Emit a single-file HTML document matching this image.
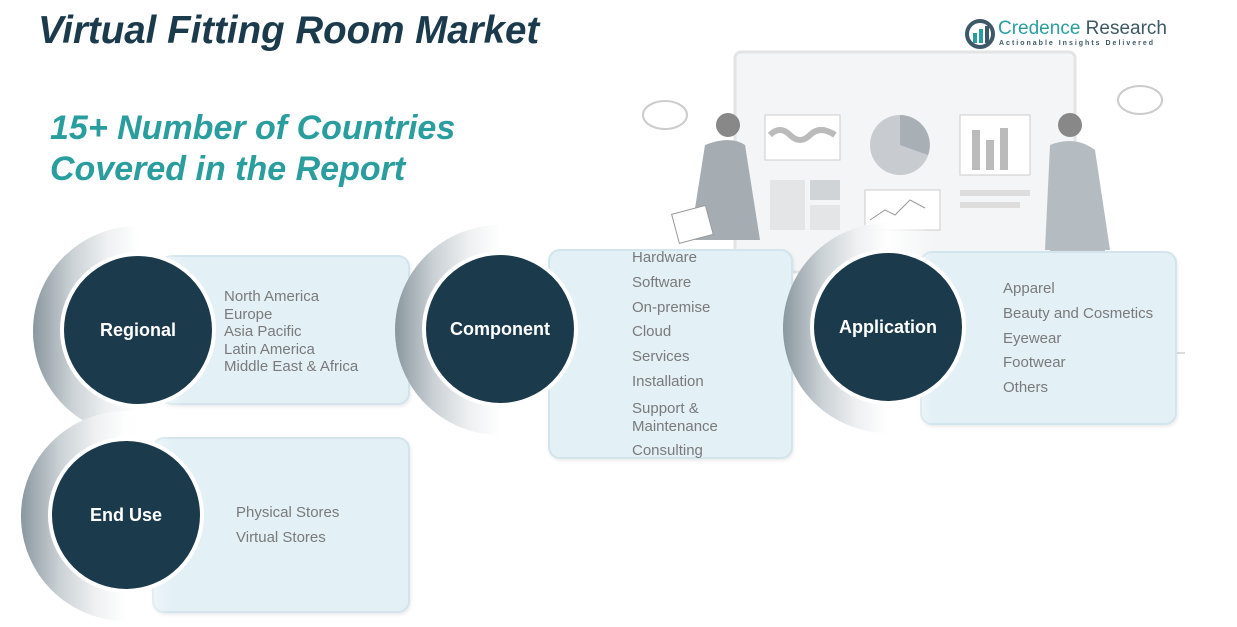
<!DOCTYPE html>
<html><head><style>
body{margin:0;width:1237px;height:627px;background:#fff;position:relative;overflow:hidden;font-family:"Liberation Sans",sans-serif}
.a{position:absolute}
.box{position:absolute;background:#e3f0f6;border:2px solid #d2e4ec;border-radius:12px;box-sizing:border-box;box-shadow:1px 2px 3px rgba(0,0,0,0.08)}
.ring{position:absolute;border-radius:50%;background:linear-gradient(90deg,#8a979f 0%,#c9d0d4 18%,#eef0f1 35%,rgba(255,255,255,0.9) 50%,rgba(255,255,255,0) 72%)}
.c{position:absolute;border-radius:50%;background:#1b3a4b;border:4px solid #fff;box-sizing:border-box;color:#fff;font-weight:bold;font-size:18px;display:flex;align-items:center;justify-content:center}
.t{position:absolute;color:#7a7a7a;font-size:15px;line-height:17.5px}
.t2{position:absolute;color:#7a7a7a;font-size:15px;line-height:24.8px}
</style></head><body>
<div class="a" style="left:38px;top:9px;font-size:38.5px;font-weight:bold;font-style:italic;color:#1b3a4b">Virtual Fitting Room Market</div>
<div class="a" style="left:50px;top:108px;font-size:34px;font-weight:bold;font-style:italic;color:#2a9d9f;line-height:41px">15+ Number of Countries<br>Covered in the Report</div>
<svg class="a" style="left:964px;top:18px" width="32" height="32"><circle cx="16" cy="16" r="13" fill="none" stroke="#3d5866" stroke-width="4"/><rect x="9" y="15" width="4" height="10" fill="#2a9d9f"/><rect x="15" y="11" width="4" height="14" fill="#2a9d9f"/><rect x="21" y="8" width="4" height="17" fill="#3d5866"/></svg>
<div class="a" style="left:998px;top:18px;font-size:19px;color:#2a9d9f">Credence <span style="color:#3d5866">Research</span></div>
<div class="a" style="left:999px;top:40px;font-size:7px;letter-spacing:2px;color:#3d5866;font-weight:bold">Actionable Insights Delivered</div>
<svg class="a" style="left:630px;top:50px" width="560" height="310">
<rect x="105" y="2" width="340" height="220" rx="6" fill="#f4f5f6" stroke="#e2e4e6" stroke-width="3"/>
<rect x="135" y="65" width="75" height="45" fill="#fff" stroke="#ccc"/><path d="M140 85 q10-10 20 0 t20 0 t25 0" stroke="#bbb" stroke-width="6" fill="none"/>
<circle cx="270" cy="95" r="30" fill="#c8ccd0"/><path d="M270 95 L270 65 A30 30 0 0 1 298 105 Z" fill="#a8afb5"/>
<rect x="330" y="65" width="70" height="60" fill="#fff" stroke="#ccc"/><rect x="342" y="80" width="8" height="40" fill="#bbb"/><rect x="356" y="90" width="8" height="30" fill="#bbb"/><rect x="370" y="78" width="8" height="42" fill="#bbb"/>
<rect x="140" y="130" width="35" height="50" fill="#e3e5e7"/><rect x="180" y="130" width="30" height="20" fill="#d0d4d7"/><rect x="180" y="155" width="30" height="25" fill="#e3e5e7"/>
<rect x="235" y="140" width="75" height="40" fill="#fff" stroke="#ccc"/><path d="M240 170 l15-10 l10 5 l15-15 l15 8" stroke="#999" fill="none"/>
<rect x="330" y="140" width="70" height="6" fill="#ddd"/><rect x="330" y="152" width="60" height="6" fill="#ddd"/>
<ellipse cx="35" cy="65" rx="22" ry="14" fill="none" stroke="#ccc" stroke-width="2"/><ellipse cx="510" cy="50" rx="22" ry="14" fill="none" stroke="#ccc" stroke-width="2"/>
<circle cx="98" cy="75" r="12" fill="#888"/><path d="M75 95 q25-10 40 0 l15 95 h-70z" fill="#a5adb3"/><rect x="45" y="160" width="35" height="30" fill="#fff" stroke="#999" transform="rotate(-15 60 175)"/>
<circle cx="440" cy="75" r="12" fill="#888"/><path d="M420 95 q25-10 45 5 l15 100 h-65z" fill="#b5bcc1"/><path d="M420 200 h55 v50 h-55z" fill="#b8bec3"/>
<line x1="160" y1="303" x2="555" y2="303" stroke="#bbb"/>
</svg>
<div class="box" style="left:160px;top:255px;width:250px;height:150px"></div>
<div class="ring" style="left:33px;top:226px;width:210px;height:210px"></div>
<div class="c" style="left:60px;top:252px;width:156px;height:156px">Regional</div>
<div class="t" style="left:224px;top:288px">North America<br>Europe<br>Asia Pacific<br>Latin America<br>Middle East &amp; Africa</div>
<div class="box" style="left:548px;top:249px;width:245px;height:210px"></div>
<div class="ring" style="left:395px;top:225px;width:210px;height:210px"></div>
<div class="c" style="left:422px;top:251px;width:156px;height:156px">Component</div>
<div class="t2" style="left:632px;top:246px">Hardware<br>Software<br>On-premise<br>Cloud<br>Services<br>Installation</div>
<div class="t" style="left:632px;top:400px">Support &amp;<br>Maintenance</div>
<div class="t" style="left:632px;top:442px">Consulting</div>
<div class="box" style="left:920px;top:251px;width:257px;height:174px"></div>
<div class="ring" style="left:783px;top:223px;width:210px;height:210px"></div>
<div class="c" style="left:810px;top:249px;width:156px;height:156px">Application</div>
<div class="t2" style="left:1003px;top:277px">Apparel<br>Beauty and Cosmetics<br>Eyewear<br>Footwear<br>Others</div>
<div class="box" style="left:152px;top:437px;width:258px;height:176px"></div>
<div class="ring" style="left:21px;top:411px;width:210px;height:210px"></div>
<div class="c" style="left:48px;top:437px;width:156px;height:156px">End Use</div>
<div class="t2" style="left:236px;top:501px">Physical Stores<br>Virtual Stores</div>
</body></html>
